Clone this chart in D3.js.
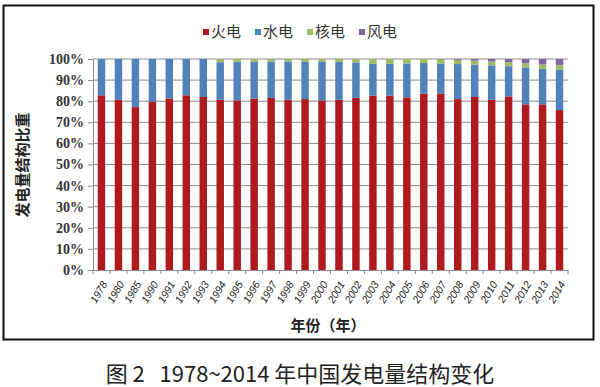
<!DOCTYPE html>
<html><head><meta charset="utf-8">
<script src="https://cdn.jsdelivr.net/npm/d3@7"></script>
<style>body{margin:0;background:#fff}svg{display:block}</style>
</head><body>
<svg id="c" width="600" height="387"></svg>
<script>
const years = ["1978","1980","1985","1990","1991","1992","1993","1994","1995","1996","1997","1998","1999","2000","2001","2002","2003","2004","2005","2006","2007","2008","2009","2010","2011","2012","2013","2014"];
const thermal = [82.8,80.7,77.2,79.7,81.3,82.8,82.0,80.7,80.4,81.2,81.5,80.7,81.0,80.4,80.7,81.6,82.6,82.6,81.8,83.5,83.5,81.0,82.0,80.7,82.3,78.5,78.5,75.8];
const hydro = [17.2,19.3,22.8,20.3,18.7,17.2,18.0,17.8,18.4,17.6,17.3,18.1,17.8,18.4,18.1,16.8,15.1,15.1,16.1,14.6,14.4,16.6,15.3,16.3,14.3,17.5,16.8,19.1];
const nuclear = [0,0,0,0,0,0,0,1.5,1.2,1.2,1.2,1.2,1.2,1.2,1.2,1.6,2.3,2.3,2.1,1.9,1.9,2.0,1.9,1.8,1.9,2.0,2.1,2.3];
const wind = [0,0,0,0,0,0,0,0,0,0,0,0,0,0,0,0,0,0,0,0,0.2,0.4,0.8,1.2,1.5,2.0,2.6,2.8];
const seriesNames = ["火电","水电","核电","风电"];
const colors = ["#AF1A1F","#5282BA","#9DBB61","#7F66A0"];
const yTicks = [0,10,20,30,40,50,60,70,80,90,100];

const svg = d3.select("#c");
const m = {l:93, r:568, t:59, b:270};
const rows = years.map((y,i)=>({year:y, "火电":thermal[i], "水电":hydro[i], "核电":nuclear[i], "风电":wind[i]}));
const stack = d3.stack().keys(seriesNames)(rows);
const x = d3.scaleBand().domain(years).range([m.l,m.r]).paddingInner(0.56).paddingOuter(0.28);
const y = d3.scaleLinear().domain([0,100]).range([m.b,m.t]);
const color = d3.scaleOrdinal().domain(seriesNames).range(colors);

// frame
svg.append("rect").attr("x",3.5).attr("y",5.5).attr("width",590).attr("height",334)
  .attr("fill","none").attr("stroke","#111").attr("stroke-width",2);

// gridlines
svg.append("g").selectAll("line").data(yTicks.filter(d=>d>0)).join("line")
  .attr("x1",m.l).attr("x2",m.r).attr("y1",d=>y(d)).attr("y2",d=>y(d))
  .attr("stroke","#8c8c8c").attr("stroke-width",1);

// bars
svg.append("g").selectAll("g").data(stack).join("g").attr("fill",d=>color(d.key))
  .selectAll("rect").data(d=>d).join("rect")
  .attr("x",d=>x(d.data.year)).attr("width",x.bandwidth())
  .attr("y",d=>y(d[1])).attr("height",d=>Math.max(0,y(d[0])-y(d[1])));

// y axis
const ya = svg.append("g").attr("transform",`translate(${m.l},0)`)
  .call(d3.axisLeft(y).tickValues(yTicks).tickFormat(d=>d+"%").tickSize(5).tickPadding(4));
ya.select(".domain").attr("stroke","#8c8c8c");
ya.selectAll(".tick line").attr("stroke","#8c8c8c");
ya.selectAll("text").attr("font-family","Liberation Serif, serif").attr("font-weight","bold")
  .attr("font-size",14).attr("fill","#333");

// x axis
const xa = svg.append("g").attr("transform",`translate(0,${m.b})`)
  .call(d3.axisBottom(x).tickSize(0).tickPadding(0));
xa.select(".domain").attr("stroke","#8c8c8c");
xa.selectAll(".tick text").attr("font-family","Liberation Sans, sans-serif").attr("font-size",10.5)
  .attr("fill","#222").attr("font-style","italic")
  .attr("text-anchor","end").attr("dy","0.35em")
  .attr("transform","translate(3,12) rotate(-60)");
// boundary ticks
svg.append("g").selectAll("line").data(d3.range(years.length+1)).join("line")
  .attr("x1",i=>m.l + i*(m.r-m.l)/years.length).attr("x2",i=>m.l + i*(m.r-m.l)/years.length)
  .attr("y1",m.b).attr("y2",m.b+4).attr("stroke","#8c8c8c");

// axis titles
svg.append("text").attr("transform","translate(28,165) rotate(-90)")
  .attr("text-anchor","middle").attr("font-family","Noto Sans CJK SC").attr("font-weight","bold")
  .attr("font-size",15).attr("fill","#222").text("发电量结构比重");
svg.append("text").attr("x",328).attr("y",331).attr("text-anchor","middle")
  .attr("font-family","Noto Sans CJK SC").attr("font-weight","bold").attr("font-size",15)
  .attr("fill","#222").text("年份（年）");

// legend
const lg = svg.append("g").attr("transform","translate(203,32)");
const lx = [0,52,104,156];
seriesNames.forEach((s,i)=>{
  const g = lg.append("g").attr("transform",`translate(${lx[i]},0)`);
  g.append("rect").attr("x",0).attr("y",-3).attr("width",6).attr("height",6).attr("fill",colors[i]);
  g.append("text").attr("x",8).attr("y",0).attr("dy","0.35em").attr("font-family","Noto Sans CJK SC")
    .attr("font-size",15).attr("fill","#333").text(s);
});

// caption
svg.append("text").attr("x",300).attr("y",382).attr("text-anchor","middle")
  .attr("font-family","Noto Sans CJK SC").attr("font-size",22).attr("fill","#222")
  .text("图 2\u00a0\u00a0 1978~2014 年中国发电量结构变化");
</script>
</body></html>
